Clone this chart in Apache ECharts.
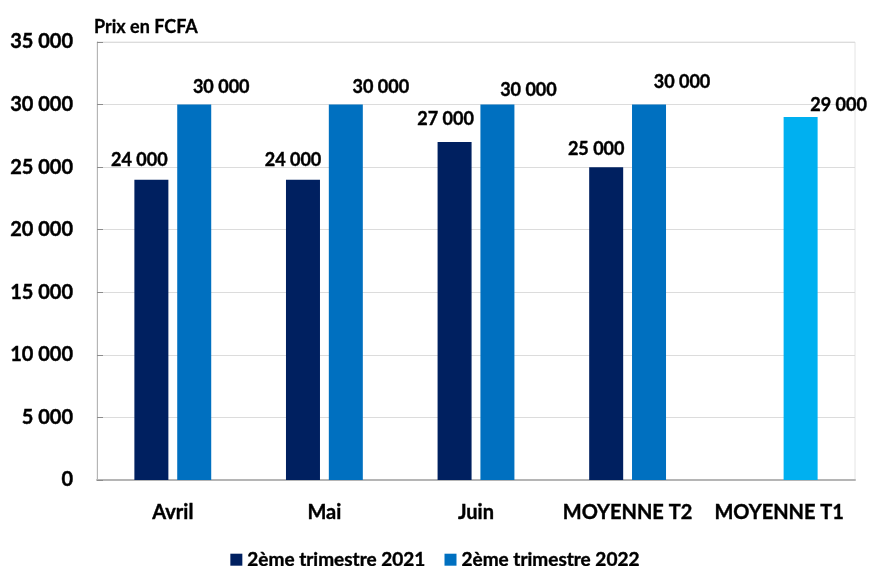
<!DOCTYPE html>
<html>
<head>
<meta charset="utf-8">
<script src="https://cdn.jsdelivr.net/npm/echarts@6/dist/echarts.min.js"></script>
<style>
	html, body { margin: 0; padding: 0; background: #fff; }
	#chart { width: 870px; height: 566px; }
</style>
</head>
<body>
<div id="chart"></div>
<script>
var categories = ['Avril', 'Mai', 'Juin', 'MOYENNE T2', 'MOYENNE T1'];
var seriesNames = ['2ème trimestre 2021', '2ème trimestre 2022'];
var prix2021 = [24000, 24000, 27000, 25000, '-'];
var prix2022 = [30000, 30000, 30000, 30000, 29000];
var yTicks = { min: 0, max: 35000, interval: 5000 };

// label positions (not data)
var offsets2021 = [[-12, -5], [-10, -5], [-9, -9], [-10, -4], [0, 0]];
var offsets2022 = [[27, -3], [35, -3], [31, 0], [33, -8], [38, 2]];

var font = 'Lato';
var weight = 'bold';

function fmt(v) {
	return String(v).replace(/\B(?=(\d{3})+(?!\d))/g, ' ');
}

function buildData(values, offsets, colors) {
	return values.map(function(v, i) {
		var item = {
			value: v,
			label: { offset: offsets[i] }
		};
		if(colors && colors[i]) {
			item.itemStyle = { color: colors[i] };
		}
		return item;
	});
}

var labelStyle = {
	show: true,
	position: 'top',
	fontFamily: font,
	fontWeight: weight,
	fontSize: 18,
	color: '#000',
	textBorderColor: '#000',
	textBorderWidth: 0.4,
	formatter: function(p) { return fmt(p.value); }
};

var option = {
	animation: false,
	backgroundColor: '#fff',
	textStyle: { fontFamily: font },
	title: {
		text: 'Prix en FCFA',
		left: 89,
		top: 13,
		textStyle: { fontFamily: font, fontWeight: weight, fontSize: 18, color: '#000',
			textBorderColor: '#000', textBorderWidth: 0.3 }
	},
	legend: {
		data: seriesNames,
		left: 'center',
		top: 545,
		icon: 'rect',
		itemWidth: 12,
		itemHeight: 12,
		itemGap: 19,
		textStyle: { fontFamily: font, fontWeight: weight, fontSize: 19, color: '#000',
			textBorderColor: '#000', textBorderWidth: 0.4 }
	},
	grid: {
		left: 97,
		right: 15,
		top: 42,
		bottom: 86,
		show: true,
		borderColor: '#e4e4e4',
		borderWidth: 1
	},
	xAxis: {
		type: 'category',
		data: categories,
		axisLine: { lineStyle: { color: '#b5b5b5', width: 2 } },
		axisTick: { show: false },
		axisLabel: {
			interval: 0,
			margin: 23,
			fontFamily: font,
			fontWeight: weight,
			fontSize: 20,
			color: '#000',
			textBorderColor: '#000',
			textBorderWidth: 0.4
		}
	},
	yAxis: {
		type: 'value',
		min: yTicks.min,
		max: yTicks.max,
		interval: yTicks.interval,
		axisLine: { show: true, lineStyle: { color: '#b5b5b5', width: 1 } },
		axisTick: { show: true, inside: true, length: 6, lineStyle: { color: '#8c8c8c' } },
		splitLine: { lineStyle: { color: '#dcdcdc' } },
		axisLabel: {
			margin: 24,
			fontFamily: font,
			fontWeight: weight,
			fontSize: 20,
			color: '#000',
			textBorderColor: '#000',
			textBorderWidth: 0.4,
			formatter: function(v) { return fmt(v); }
		}
	},
	series: [{
		name: seriesNames[0],
		type: 'bar',
		barWidth: 34,
		barGap: '26%',
		itemStyle: { color: '#002060' },
		label: labelStyle,
		data: buildData(prix2021, offsets2021)
	}, {
		name: seriesNames[1],
		type: 'bar',
		barWidth: 34,
		barGap: '26%',
		itemStyle: { color: '#0070c0' },
		label: labelStyle,
		data: buildData(prix2022, offsets2022, [null, null, null, null, '#00b0f0'])
	}]
};

var chart = echarts.init(document.getElementById('chart'));
chart.setOption(option);
</script>
</body>
</html>
